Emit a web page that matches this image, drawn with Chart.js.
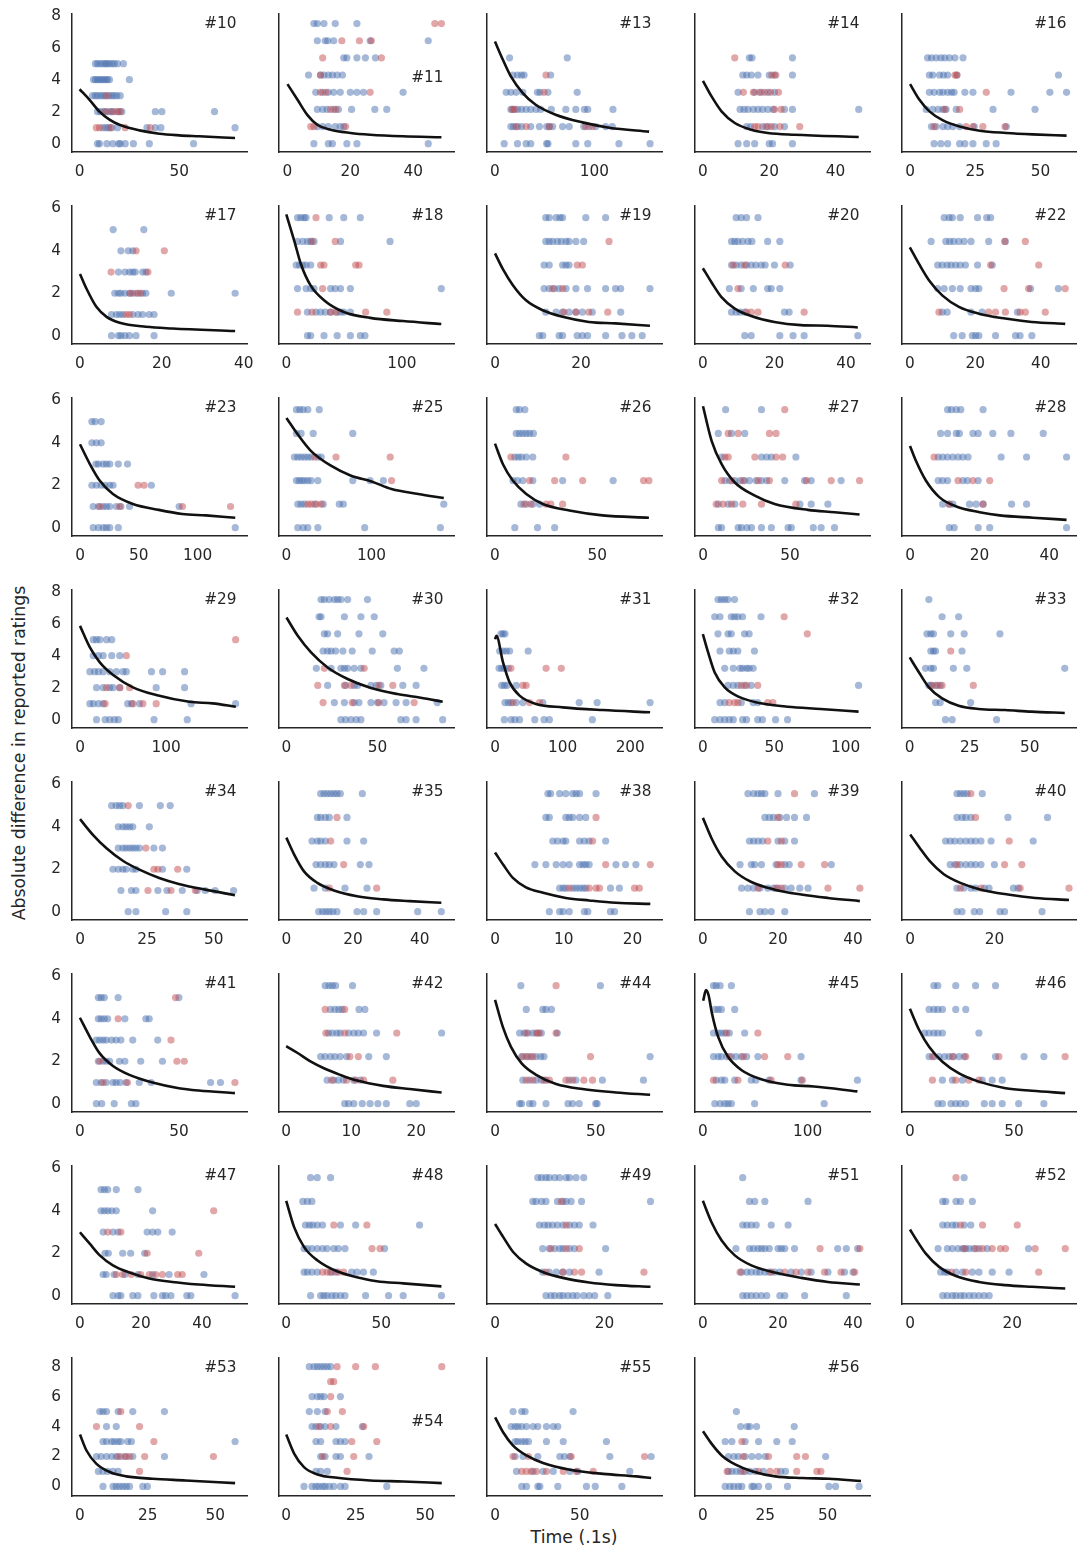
<!DOCTYPE html>
<html>
<head>
<meta charset="utf-8">
<script src="https://cdn.jsdelivr.net/npm/chart.js@4.4.1/dist/chart.umd.min.js"></script>
<style>
  body { margin: 0; background: #fff; width: 1077px; height: 1548px; position: relative; overflow: hidden;
         font-family: "DejaVu Sans", sans-serif; color: #262626; }
  canvas { position: absolute; }
  .lab { position: absolute; font-size: 17.3px; line-height: 1; white-space: nowrap; transform: translate(-50%, -50%); }
  #ylab { left: 20px; top: 753px; transform: translate(-50%, -50%) rotate(-90deg); }
  #xlab { left: 574px; top: 1538px; }
</style>
</head>
<body>
<div class="lab" id="ylab">Absolute difference in reported ratings</div>
<div class="lab" id="xlab">Time (.1s)</div>
<script>
// rating levels (y values, top row of points first)
const levelsInt = [5, 4, 3, 2, 1, 0];
const levelsNine = [8, 7, 6, 5, 4, 3, 2, 1, 0];
const levelsWide = [7.5, 6.43, 5.36, 4.29, 3.21, 2.14, 1.07, 0];
const levelsWideLow = [5.36, 4.29, 3.21, 2.14, 1.07, 0];
const levelsNarrow = [5.56, 4.44, 3.33, 2.22, 1.11, 0];

// per panel: b = blue x values per level, r = red x values per level, c = fitted curve [x, y]
const b10 = [[7.9,9,10.4,11.7,12.9,13.7,14.9,16.2,17.4,19,22],[7,8,9,10,11,12,13,14,15,25],[6.5,7.9,9,10.4,11.7,12.9,14.9,16.2,17.4,18.7,20.4],[9,10.4,12,13.7,15.4,17,19.6,21.2,38,41.3,67.7],[11.7,13.2,14.5,16.2,19,33.8,38,40.8,78],[9,10,13.7,16.7,19.6,20.4,22.9,27,35,57.2]];
const r10 = [[],[],[13.7],[12.9,16.2,18.7,20.4],[8.4,10,15.4,22.9,35.5],[]];
const c10 = [[0,3.4],[5,2.74],[10,2.0],[15,1.5],[20,1.18],[30,0.83],[40,0.62],[50,0.52],[60,0.46],[78,0.35]];

const b11 = [[8.4,9.5,11.6,15.2,22.1],[9.5,12,12.8,14.7,26.3,44.8],[17.9,18.9,22.1,24.8,28],[6.7,10.5,11.6,13,14.3,15.8,17.5],[9,11.2,13,14.7,16.8,20,22.1,24.2,36.8],[9.5,11.2,12.6,14.7,16.2,20.4,27.8,31.6],[9.5,11.2,13,15.2,16.8,17.9],[8.4,13,14.3,18.9,22.1,44.8]];
const r11 = [[46.9,49],[17.3,22.9,26.7],[11.2,29.9],[10.5],[10.5,12.2,26.3],[13.7,15.4],[7.4,8.4,18.5],[]];
const c11 = [[0,3.72],[3.2,2.74],[6.3,1.8],[9.5,1.18],[13.7,0.87],[20,0.67],[26.3,0.56],[36.8,0.46],[49,0.4]];

const b13 = [[14.7,72.7],[18,22.7,26.7,29.3,56],[11.3,16,21.3,28,42.7,45.3,53.3,82.7],[16,18.7,22.7,26.7,31.3,36,41.3,46,56.7,71.3,81.3,90,93.3,118.7],[16,18.7,22.7,26.7,36,44.7,52,54.7,58,68,74.7,89.3,94.7,101.3,111.3,118],[9.3,22.7,31.3,36,52,53.3,81.3,93.3,124.7,156]];
const r13 = [[],[51.3],[49.3],[17.3,20],[21.3,31.3,54.7,91.3,98],[]];
const c13 = [[0,6.38],[8,5.24],[16,4.2],[28,3.16],[41,2.43],[61,1.81],[88,1.33],[115,1.0],[155,0.75]];

const b14 = [[14,14.8,27],[12,13.2,14.6,16.6,20,21.6,27],[10.6,15.6,17.6,19.6,21.6],[11.2,12.4,13.6,15.2,16.6,18,19.6,21.2,24.6,27,47],[13.2,14.4,18,19.6,21.6,24.6],[10.6,13.2,15.6,20,21,27]];
const r14 = [[9.6],[20.8,22],[12.2,15.2,17,18.6,20.4,22.8],[21.6,23.6],[15.6,16.6,19,20.6,23.2,29.2],[]];
const c14 = [[0,3.93],[2.6,2.95],[5.6,2.02],[9.6,1.29],[14.6,0.87],[19.6,0.67],[27.6,0.56],[47,0.42]];

const b16 = [[6.7,8.2,10,11.8,13.3,15.1,17.2,20.3],[7.4,8.7,11.3,12.8,14.4,17.9,56.9],[7.4,9.2,11.3,12.6,14.4,15.9,16.9,21,24.1,38.7,53.6,60],[6.2,8.7,10.8,12.6,13.8,17.7,31.8,47.9],[8.2,10,12.6,14.4,16.4,19,24.6,36.9],[9.2,11.8,14.4,19,21,24.1,29.2,33]];
const r16 = [[],[17.2,18],[29.2],[19,13.3],[9.2,24.1,27.9,36.4,21.5],[]];
const c16 = [[0,3.72],[3.6,2.74],[7.4,2.02],[12.6,1.46],[19,1.08],[26.7,0.81],[36.9,0.67],[47,0.58],[60,0.5]];

const b17 = [[8.1,15.6],[10,11.8,12.9],[9.4,11,12.1,12.9,13.5,15.3,16.1],[8.5,9.4,10,11,12.1,12.9,14.2,15.3,16.1,22.3,37.9],[7.7,8.9,9.7,10.5,12.9,14.2,15.3,16.9,18.1],[7.7,9.4,10,11,12.1,13.7,18.1]];
const r17 = [[],[13.7,20.6],[7.6,16.6],[12.3,13.7,14.8],[11.3,12.1],[]];
const c17 = [[0,2.91],[1.6,2.21],[4,1.36],[6.5,0.89],[9.7,0.61],[16.1,0.42],[22.6,0.34],[37.9,0.22]];

const b18 = [[9.7,12.6,15.4,17.1,37.1,49.7,64],[9.7,14.3,18.3,21.1,24,46.9,89.7],[8.6,11.4,14.3,17.1,21.1],[9.7,17.1,21.1,24,38.3,42.3,46.9,55.4,134],[18.3,25.7,29.7,33.7,38.3,44,46.9,49.7,55.4],[18.3,21.1,32.6,44,55.4,64,68]];
const r18 = [[25.7],[22.3,42.3],[29.7,32.6,60,62.9],[31.4],[9.7,22.3,38.3,42.9,68.6,86.9],[]];
const c18 = [[0,5.72],[6.9,4.47],[12.6,3.38],[21,2.37],[32.6,1.67],[49.7,1.12],[72.6,0.84],[101,0.69],[134,0.55]];

const b19 = [[11.8,12.6,14.2,15.1,15.7,21.1,25.7],[11.8,12.6,13.4,14.5,15.4,16.5,17.2,18.8,20.6],[11.4,12.6,15.7,16.5,17.2],[11.4,12.6,13.8,14.9,16.5,18.8,21.5,25.7,28,29.2,36],[11.8,14.2,15.7,17.2,18.8,20.3,22.6,29.2],[10.3,11.1,14.9,15.7,19.1,20.3,21.5,25.7,29.5,31.8,34.2]];
const r19 = [[],[26.5],[19.1,20.3],[13.4,15.7],[16,18.8,21.8,26.2],[]];
const c19 = [[0,3.88],[1.8,3.15],[4.2,2.37],[7.2,1.67],[11.1,1.2],[15.7,0.89],[21.8,0.65],[28,0.58],[36,0.47]];

const b20 = [[9.3,10.7,12.2,15.4],[8,8.9,9.8,11.1,12.6,13.7,18.1,21.5],[8,9.3,10.7,12.2,13.5,14.8,16.3,17.4,20,24.4],[7.4,10.7,14.1,18.1,19.1,21.5],[8,9.3,10.4,11.7,22.8,24.1],[11.7,13.5,21.5,25.2,28.3,43.3]];
const r20 = [[],[],[8.5,11.7,23],[9.8],[12.2,13.5,15.4,28.3],[]];
const c20 = [[0,3.18],[2.4,2.52],[5.2,1.82],[8.9,1.28],[13.5,0.93],[20,0.65],[27.4,0.5],[34.8,0.47],[43.3,0.39]];

const b22 = [[10.5,12,13,15.4,20.7,23.5,24.7],[6.5,11,12.2,13.4,15,16.6,18.7,24.1,29.2],[8.5,9.9,11.4,12.6,14,15.4,17,20.7,25.2],[8.5,10.5,13,15.4,18.7,20.1,21.1,36.9,45.4],[9.9,11.4,18.7,22.1,32.9],[13.4,16,19.1,20.1,21.1,26.2,32.3,33.7,37.3]];
const r22 = [[],[35.3,29],[24.7,39.4],[28.8,36.3,47.5],[8.9,24.1,26.2,29.2,33.7,35.3,41.4],[]];
const c22 = [[0,4.16],[2.8,3.38],[5.9,2.6],[9.9,1.9],[15,1.36],[21.1,1.04],[29.2,0.81],[37.3,0.65],[47.5,0.56]];

const b23 = [[10.1,12.9,18],[10.1,14,18],[13.5,15.7,19.7,22.5,25.3,32.6,40.4],[10.1,14,18,21.3,25.3,28.1,60.7],[11.2,15.7,19.7,22.5,25.3,30.9,34.8,42.1,84.3],[11.2,15.7,19.7,22.5,25.3,32.6,132]];
const r23 = [[],[],[],[49.4,54.5],[16.9,33.7,87.1,128],[]];
const c23 = [[0,3.93],[8.4,3.0],[16.9,2.21],[28,1.59],[45,1.12],[67,0.84],[87,0.65],[107,0.58],[132,0.47]];

const b25 = [[11.8,15.7,19.7,25.2,38.6],[11.8,17.3,31.5,78],[9.4,13.4,17.3,21.3,25.2,29.1,37,40.9],[11.8,15,18.1,21.3,25.2,29.1,37,78,98.4,114],[13.4,17.3,21.3,33.1,43.3,62.2,66.9,185],[13.4,19.7,25.2,37,92,181]];
const r25 = [[],[],[33.1,58.3,122],[123.6],[25.2,29.1,35.4,40.9],[]];
const c25 = [[0,5.17],[13.4,4.39],[29,3.61],[52.8,2.91],[76,2.45],[100,2.18],[123.6,1.82],[155,1.59],[185,1.4]];

const b26 = [[10.4,12,14.6],[10.4,12,13.6,15.3,16.9,18.8],[9.7,11.4,13,15.3,18.5],[8.8,11,13.6,18.5,33.1,57.8],[12.7,15.3,18.5,21.8],[9.7,20.8,29.2]];
const r26 = [[],[],[7.8,34.7],[16.9,29.2,42.9,72.7,75.3],[14.3,17.5,25,27.3,33.1],[]];
const c26 = [[0,3.96],[3.9,2.99],[8.8,2.21],[15.3,1.59],[23.4,1.12],[36.4,0.81],[52.6,0.58],[75.3,0.47]];

const b27 = [[13,33.6],[8.8,16.4,24],[10.7,33.6,36.6,39.3,53.4],[12.6,15.3,18.3,21.4,24,26.7,30.5,33.6,36.6,47,58.4,62.2,79.4],[8.8,14.5,18.3,55.7,62.2,71.8],[8.8,10.7,20.2,22.1,25.2,27.9,33.6,39.3,48.9,50.8,63.4,67.9,75.6]];
const r27 = [[47],[14.5,20.2,38.2,42],[12.6,14.5,29.8,42,45.8],[10.7,16.4,22.9,31.7,38.2,59.5,73.7,90],[7.6,11.5,16.4,22.9,33.6,53.4],[]];
const c27 = [[0,5.72],[5,4.08],[10.7,2.99],[18.3,2.13],[29.8,1.51],[41.2,1.12],[60.3,0.84],[75.6,0.73],[90,0.62]];

const b28 = [[10.8,11.9,13.3,14.6,21],[8.8,10.8,13.3,14.2,18.1,19.6,23.8,29,38.3],[8.1,9.4,10.8,12.3,13.8,15.2,16.7,26.2,33.5,45],[8.1,9.4,10.8,15.2,16.5,19.6],[9.4,11.3,12.3,17.1,19,21,29.2,33.5],[11.3,12.7,19.6,22.9,45]];
const r28 = [[],[],[6.9],[13.8,18.1,22.9],[11.3,21],[]];
const c28 = [[0,3.85],[1.7,3.15],[4.6,2.21],[8.5,1.43],[13.3,1.0],[20,0.73],[25.8,0.58],[35.4,0.47],[45,0.37]];

const b29 = [[15.4,19.2,23,30.8,36.9],[15.4,21.5,26.9,36.9,46.2],[11.5,16.9,21.5,26.9,34.6,42.3,50,53.8,83,96,121.5],[19.2,26.9,34.6,38.5,46.2,88.5,121.5],[11.5,15.4,21.5,26.9,55.4,60,69.2,129,180.8],[19.2,29.2,34.6,40,44.6,86,124.6]];
const r29 = [[180.8],[53.8],[],[30.8,46.2,57.7],[29.2,61.5,73,88.5],[]];
const c29 = [[0,5.86],[11.5,4.51],[23,3.58],[38.5,2.79],[61.5,2.02],[88.5,1.54],[127,1.12],[154,1.02],[181,0.81]];

const b30 = [[19,20.8,23.4,26.3,28.1,29.9,33.6,44.5],[17.9,19,31.8,40.9,48.2],[20.8,22.6,28.1,39.8,52.9],[20.1,22.6,24.5,27,31,36.1,47.1,59.1,62],[16.4,24.5,29.9,31.8,33.6,37.2,40.9,60.9,75.5],[22.6,32.5,37.2,39,46.4,49.3,51.8,63.9,71.2],[26.3,31.8,37.2,39.8,46.4,50,53.6,60.2,65.7,82.8],[29.9,32.5,35.4,38.3,40.9,62.8,65.7,71.2,85.8]];
const r30 = [[],[],[],[],[20.8,42.7],[17.2,31.8,35.4,50.7,58.4],[20.1,36.1,50.7,70.1],[]];
const c30 = [[0,6.38],[6.2,5.24],[13.5,4.2],[22.6,3.26],[33.6,2.54],[46.4,1.98],[60.9,1.6],[73.7,1.37],[85.8,1.12]];

const b31 = [[8.8,11.8,14.7],[6.9,11.8,16.7,21.6,49],[5.9,9.8,13.7,19.6],[9.8,13.7,17.6,31.4],[14.7,19.6,23.5,31.4,41.2,70.6,124.5,151,229.4],[13.7,23.5,29.4,36.3,58.8,72.5,80.4,144]];
const r31 = [[],[],[23.5,75.5,98],[41.2,46],[26.5,51,65.7],[]];
const c31 = [[0,5.03],[2,5.24],[11.8,3.58],[21.6,2.33],[36.3,1.5],[60.8,0.98],[100,0.77],[158.8,0.6],[229.4,0.46]];

const b32 = [[10.6,13,15.3,17.6,22.2],[8.3,12,19.9,22.2,24.5,27.8,40.7],[10.6,17.6,19.9,29.2,32.4],[12,18.5,21.3,24.5,36.1],[15.3,21.3,25.9,27.8,30.6,32.4,35.2],[17.6,21.3,24.5,29.2,33.8,109],[12,15.3,26.9,35.2,38.4],[8.3,12,15.3,18.5,21.3,27.8,30.6,38.4,41.7,50.9,59.3]];
const r32 = [[],[56.9],[73.1],[],[],[26.9,30.6,38.4],[18.5,22.2,24.5,45.4,49],[]];
const c32 = [[0,5.34],[3.7,4.2],[8.3,2.95],[15.3,2.02],[24.5,1.46],[40.7,1.02],[59.3,0.81],[82.4,0.67],[109,0.5]];

const b33 = [[8],[13.5,20.4],[7.2,8.8,9.9,17.1,22.7,37.6],[8.8,9.9,10.8,21.8],[6.6,8.8,9.9,18.2,23.8,64.6],[8,8.8,10.8,12.7],[10.8,12.7,25.4],[14.9,17.7,36.2]];
const r33 = [[],[],[],[17.1],[],[9.4,11.6,13.5,26.5],[],[]];
const c33 = [[0,3.89],[3.9,2.95],[8,2.02],[13.5,1.33],[20.4,0.87],[28.7,0.67],[39.8,0.6],[50.8,0.5],[64.6,0.42]];

const b34 = [[11.8,13.5,14.8,16,22.2,30,33.7],[14.3,16,17.2,18.5,19.7,25.9],[14.3,16,17.2,18.5,19.7,20.9,22.2,27.6,30.8],[12.3,14.3,16,17.2,19.7,20.9,30.8,39.9],[15.3,19.2,20.9,29.1,32.5,38.2,43.8,46.8,50.5,57.4],[18,20.9,32,39.9]];
const r34 = [[18],[],[24.6],[27.6,29.1,36.5],[25.4,34,43.1],[]];
const c34 = [[0,4.36],[4.9,3.61],[9.9,2.99],[16,2.4],[22.2,1.98],[29.6,1.59],[36.9,1.31],[46.8,1.04],[57.9,0.78]];

const b35 = [[10.3,11.3,12.3,13.3,14.3,15.2,16.2,22.8],[9.3,10.3,11.7,12.9,18.2],[7.7,9.3,10.3,11.7,18.2,23.2],[8.9,10.3,11.7,12.9,14.3,22.2,24.8],[8.3,11.7,17.6,24.2],[9.7,10.9,11.9,12.9,13.9,15.2,21.2,23.2,27.1,39.4,46.5]];
const r35 = [[],[15.2],[13.3],[17.2],[12.9,27.1],[]];
const c35 = [[0,3.49],[2.4,2.68],[5.3,1.9],[9.3,1.36],[14.3,1.0],[21.2,0.73],[29.1,0.58],[37,0.5],[46.5,0.42]];

const b38 = [[7.7,8.1,9.4,10.3,11.3,11.8,12.3,14.7],[7.4,7.9,10.3,10.8,11.3,12.3,13.2],[8.4,9.1,9.9,10.3,12.3,13,13.7,16.1],[5.8,7.4,8.9,9.9,10.8,12.3,12.8,13.2,13.7,17.6,19,20.5],[9.4,9.9,10.3,11.3,11.8,12.3,12.8,13.2,16.8,18.1],[7.9,9.4,9.9,10.8,13,13.5,16.8,17.4]];
const r38 = [[],[14.7],[14.2],[16.1,22.6],[10.8,13.7,14.7,15.2,20.3,21],[]];
const c38 = [[0,2.79],[1.2,2.21],[2.6,1.59],[4.5,1.15],[7,0.89],[10.3,0.65],[13.7,0.53],[17.6,0.42],[22.6,0.37]];

const b39 = [[12,13.5,14.7,15.6,16.5,20,29.7],[16.5,17.7,18.8,20.5,22.3,24.4,27.6],[12.4,13.5,14.7,15.9,20,21.8,24.4],[9.9,12.9,13.8,15.6,19.5,21.8,23,34.2],[10.3,12,13.5,15.2,17.3,18.8,20,21.8,23.5,25.8,28],[12.4,15.2,16.5,18.2,21.8]];
const r39 = [[24.4],[20],[17.3,20.9],[20,20.9,26.2,32.4],[14.7,19.5,20.9,33.3,41.8],[]];
const c39 = [[0,4.42],[2.3,3.46],[5,2.6],[8.5,1.9],[12.9,1.4],[19.1,1.04],[26.2,0.81],[33.3,0.65],[41.8,0.5]];

const b40 = [[11.1,11.9,12.7,13.5,17.1],[11.1,12.3,13.2,14.4,23.2,32.6],[8.4,9.5,10.6,11.9,13.2,14.4,15.5,16.8,19.2,29.2],[9.5,10.6,11.9,13.2,14.4,15.5,16.8,20],[11.1,12.7,14.4,15.5,17.6,18.7,24.5,25.6],[11.1,12.3,15.2,16.5,21.3,22.4,31.3]];
const r40 = [[14.4],[15.5],[23.5],[11.1,22.4,26.5],[11.9,16.8,26.1,37.7],[]];
const c40 = [[0,3.64],[2.3,2.99],[4.7,2.37],[7.9,1.78],[11.9,1.36],[16.8,1.04],[23.2,0.81],[29.7,0.65],[37.7,0.55]];

const b41 = [[9.3,10.7,12.3,19.3,50],[9.3,10.7,12.3,14,22.7,33.3,35],[8.3,10,11.7,13.3,16,18.3,20.7,26.7,39.3],[9.3,11.7,13.3,15,20,22.7,30.7,41.7],[8.3,10.7,13.3,16.7,18.3,20.3,23.3,30,36,66,71],[8.3,11,17.3,26,28.3]];
const r41 = [[48.3],[19.3],[46],[10,49,52.7],[11.7,24,78.3],[]];
const c41 = [[0,4.05],[5,3.15],[10,2.37],[16.7,1.78],[25,1.36],[36.7,1.0],[50,0.73],[60,0.62],[78.3,0.5]];

const b42 = [[6,6.6,7.1,7.6,10.2],[6.8,7.5,8.1,8.6,11.2,12.1],[6.5,7.1,7.8,8.3,9.6,10.4,11.1,11.9,13.9,23.9],[5.3,6,6.8,7.5,8.3,9.3,12.7,15.4],[6.3,7.3,8,8.8,10.4,11.4],[9,9.6,10.4,11.7,12.9,14.1,15.4,19,20]];
const r42 = [[],[6,9],[6.1,9,17],[9.8,11.1],[7,9.3,10.7,11.9,16.4],[]];
const c42 = [[0,2.71],[1.7,2.4],[3.8,1.98],[5.8,1.67],[8.3,1.36],[10.9,1.09],[14.9,0.84],[19,0.69],[23.9,0.53]];

const b44 = [[12.8,52.3],[15.5,23.7,25.3,28],[12.2,14.5,16.4,18.8,21.1,23,30.9],[13.2,15.5,17.8,20.4,22.7,24.3,77],[13.8,17.1,20.4,23,25.3,36.8,40.1,53.3,73.7],[12.2,13.2,17.1,18.8,25.3,36.2,38.5,41.8,50,50.7]];
const r44 = [[30.3],[],[15.5,20.4,22,30.3],[13.8,16.4,18.8,47.4],[15.5,18.8,24.3,27,35.2,38.5,44.1,48.4],[]];
const c44 = [[0,4.89],[3.9,3.61],[7.9,2.68],[13.2,1.9],[20.4,1.36],[30.3,0.93],[43.4,0.69],[60,0.53],[77,0.42]];

const b45 = [[10.1,12.7,16.5,27.2],[11.4,14.6,17.7,30.4],[10.1,14.6,17.7,20.9,25.3,39.9],[10.1,14.6,17.7,22.8,27.2,31.6,36.7,41.8,52.5,93.7],[12.7,17.7,20.9,30.4,46.2,50.6,63.3,93.7,147.5],[11.4,16.5,20.9,24,27.2,49.4,115.8]];
const r45 = [[],[],[22.8,52.5],[25.3,38.6,58.9,81],[10.1,33.5,65.2,95],[]];
const c45 = [[0.3,4.85],[3,5.35],[5.5,5.1],[8.5,4.3],[14.6,3.15],[24,2.21],[36.7,1.59],[55.7,1.15],[81,0.89],[106,0.81],[147.5,0.58]];

const b46 = [[11.5,13.4,22,31.5,41.1],[9.2,11.5,13.4,15.6,22,26.8],[7,9.2,11.5,13.4,15.6,33.1],[9.2,11.5,14,16.6,18.8,21,23.6,26.1,41.1,54.8,64.3],[15.6,20.4,25.2,34.7,39.5,44.3],[13.4,15.6,19.7,22,24.2,26.8,35.7,39.5,44.3,52.2,64.3]];
const r46 = [[],[],[],[10.8,20.4,26.8,42.7,74.5],[10.8,22,28.3,33.1],[]];
const c46 = [[0,4.47],[4.5,3.46],[9.2,2.68],[15.6,1.98],[23.6,1.43],[33.1,1.04],[45.9,0.73],[58.6,0.61],[74.5,0.5]];

const b47 = [[6.9,8,9.1,11.9,19],[6.9,8,9.1,10.4,11.9,23.8],[7.6,10.8,12.5,22,23.8,25.5,30.2],[8.2,9.3,14,16.6,21.2],[7.6,8.6,11.2,14.7,19,23.8,29.2,40.6],[10.8,12.5,13.4,17.3,19,24.2,27,28.1,29.8,35,36.3,50.8]];
const r47 = [[],[43.8],[9.1,13.4],[22,38.9],[11.9,14,16.8,19.9,22.7,24.8,27,32,33.5],[]];
const c47 = [[0,2.99],[3.2,2.45],[6.5,1.9],[10.8,1.43],[16.2,1.09],[22.7,0.81],[30.2,0.65],[38.9,0.53],[50.8,0.42]];

const b48 = [[12.8,16.3,23.3],[8.7,11.1,13.5],[10.1,12.2,13.9,16.3,19.1,28.5,36.5,70.1],[9.4,11.1,13.5,16.3,19.1,21.5,25,27.4,30.9,51.7],[9.4,11.1,13.5,16.3,23.3,26,34.4,37.2,40.6,45.8],[12.8,18.1,19.8,21.5,24,26,28.5,30.9,41.7,53.8,61.5,81.6]];
const r48 = [[],[],[25,42.4],[45.1,49.3],[19.1,21.5,24,27.4,30.2],[]];
const c48 = [[0,4.47],[4.2,3.22],[9.4,2.29],[16.3,1.67],[26.7,1.15],[40.6,0.8],[47.6,0.68],[61.5,0.58],[81.6,0.44]];

const b49 = [[7.8,8.5,9.3,9.9,10.9,11.8,13,13.6,14.8,16.2],[6.9,7.5,8.5,9.3,11.4,12.4,13,13.9,15.8,28.4],[8.1,9,9.7,10.5,11.4,12.4,13.6,14.5,15.4,17.9],[8.7,9.9,10.9,11.8,12.4,13.6,14.5,20.2],[8.7,9.9,11.2,12.4,13.6,19],[9.3,10.2,10.9,11.8,12.4,13.3,14.2,15,16.2,17.2,18.2,20.6]];
const r49 = [[],[12.1],[13],[10.2,13,15.4],[9.3,12.4,14.5,15.8,27.2],[]];
const c49 = [[0,3.38],[1.5,2.76],[3.3,2.06],[5.7,1.51],[8.7,1.12],[12.4,0.84],[17.2,0.62],[22.1,0.5],[28.4,0.42]];

const b51 = [[10.6],[12.4,13.8,16.5,28],[10.6,11.7,12.9,14.2,18.2,22.7],[8.8,12.4,13.5,14.7,15.6,16.5,17.7,20,20.9,21.8,24.4,35.9,38.2,41.2],[10.3,11.7,12.9,14.2,15.2,16.5,17.7,19.1,20.5,23.5,26.2,28.8,33.3,37.7,40],[10.6,11.7,12.9,14.2,15.6,17,20.5,21.8,27.1,38.2]];
const r51 = [[],[],[],[31.2,41.8],[9.9,18.2,21.8,24.8,28,32.4,36.8,40.4],[]];
const c51 = [[0,4.47],[2.3,3.46],[5,2.6],[8.5,1.9],[12.9,1.43],[19.1,1.09],[26.2,0.84],[33.3,0.65],[41.8,0.53]];

const b52 = [[10.6],[6.4,7,9,9.9,12.2],[6.4,7.3,8.3,9,10.6,11.9],[5.5,7.3,8.3,9.4,10.3,10.9,11.6,12.5,13.5,15.1,23.2],[6,6.8,7.3,9,10.3,12.2,13.5,16.1,19.4],[6.4,7.3,8.3,9,9.9,10.6,11.6,12.5,13.5,14.5,15.5]];
const r52 = [[9],[],[9.9,14.2,21],[10.6,12.9,14.2,16.1,17.7,18.7,24.5,30.4],[8.1,10.9,25.2],[]];
const c52 = [[0,3.12],[1.2,2.65],[3.1,1.98],[5.7,1.36],[9,0.93],[13.5,0.65],[18.7,0.5],[23.9,0.42],[30.4,0.34]];

const b53 = [[7.3,8.5,9.8,14.1,19.5,31.2],[9.8,13.4],[8.5,9.8,11.7,12.7,14.1,15.1,17.6,19,57.3],[6.1,7.8,9.8,11.7,13.4,15.1,17.1,19.5,31.2],[6.8,8.5,10.2,12.2,14.1],[8.5,12.2,13.4,14.6,15.9,17.1,18.3,23.2,24.9]];
const r53 = [[15.1],[6.1,22],[27.3],[14.1,16.6,18.3,23.9,49.3],[22],[]];
const c53 = [[0,3.47],[2.4,2.4],[6.1,1.51],[11,0.96],[17.1,0.67],[26.8,0.51],[39,0.4],[57.3,0.22]];

const b54 = [[8.3,10,11.2,12.4,13.6,14.8,16],[],[9.3,11.2,12.4,13.6,19.5],[8.3,11.2,14],[9.3,10.7,12.4,14,17.9,27.4],[10.7,12.4,17.9,19.5,21.2],[12.4,14,17.9,19.5,29.8],[10.7,12.4,14.8],[6.4,9.3,10.7,11.7,13.1,14,15.5,17.1,19.5,21.2,36.2]];
const r54 = [[18.3,25,32.1,56],[16,17.1],[16],[14.8,20.2],[11.7,16,27.9],[23.6,32.6],[13.1,24.3],[21.9],[]];
const c54 = [[0,3.47],[2.9,2.18],[6.4,1.29],[11.2,0.8],[18.3,0.58],[30.2,0.4],[42.1,0.33],[56,0.22]];

const b55 = [[10.6,15.7,17.7,46],[9.4,11.8,13.4,15.7,18.5,22.4,25.2,30.3,34.3,37],[11.8,13.4,15.7,17.7,19.7,30.3,40.2,65.7],[11.8,16.5,25.2,38.2,40.9,44.1,67.7,92.1],[12.6,22.4,28.3,34.3,44.1,48.8,79.5],[15.7,18.5,25.2,26.4,37,53.9,59.1,74.8]];
const r55 = [[],[],[],[10.6,19.7,44.9,88.2],[15.7,18.5,21.3,24.4,30.3,40.2,48,57.9],[]];
const c55 = [[0,4.62],[4.7,3.62],[10.6,2.73],[18.5,2.07],[28.3,1.56],[44.1,1.11],[63.8,0.84],[83.5,0.67],[92.1,0.56]];

const b56 = [[13.4],[15.1,17.7,18.8,21.5,36.6],[8.9,11.6,16.9,22.3,29.6,35.8],[10.2,12.4,14.2,16.9,19.6,22.3,25,49.2],[10.2,11.6,13.4,15.1,16.9,18.8,21,24.2,31.2,33.1],[8.9,10.8,12.4,14.2,15.6,19.6,20.4,22.3,26.3,33.9,50.5,53.2,62.6]];
const r56 = [[],[],[15.6],[16.1,26.3,37.6,41.1],[9.7,16.1,22.3,26.9,29.6,37.6,45.7,47.3],[]];
const c56 = [[0,3.69],[3.5,2.84],[7.5,2.07],[12.9,1.47],[19.6,1.02],[29,0.67],[39.8,0.56],[50.5,0.51],[63.4,0.36]];

// panel order, row by row
const panelIds = [10,11,13,14,16, 17,18,19,20,22, 23,25,26,27,28, 29,30,31,32,33, 34,35,38,39,40, 41,42,44,45,46, 47,48,49,51,52, 53,54,55,56];
const panelLevels = [levelsInt,levelsWide,levelsWideLow,levelsWideLow,levelsWideLow,
  levelsInt,levelsNarrow,levelsNarrow,levelsNarrow,levelsNarrow,
  levelsInt,levelsNarrow,levelsNarrow,levelsNarrow,levelsNarrow,
  levelsInt,levelsWide,levelsWideLow,levelsWide,levelsWide,
  levelsInt,levelsNarrow,levelsNarrow,levelsNarrow,levelsNarrow,
  levelsInt,levelsNarrow,levelsNarrow,levelsNarrow,levelsNarrow,
  levelsInt,levelsNarrow,levelsNarrow,levelsNarrow,levelsNarrow,
  levelsInt,levelsNine,levelsInt,levelsInt];
const panelBlue = [b10,b11,b13,b14,b16,b17,b18,b19,b20,b22,b23,b25,b26,b27,b28,b29,b30,b31,b32,b33,b34,b35,b38,b39,b40,b41,b42,b44,b45,b46,b47,b48,b49,b51,b52,b53,b54,b55,b56];
const panelRed = [r10,r11,r13,r14,r16,r17,r18,r19,r20,r22,r23,r25,r26,r27,r28,r29,r30,r31,r32,r33,r34,r35,r38,r39,r40,r41,r42,r44,r45,r46,r47,r48,r49,r51,r52,r53,r54,r55,r56];
const panelCurve = [c10,c11,c13,c14,c16,c17,c18,c19,c20,c22,c23,c25,c26,c27,c28,c29,c30,c31,c32,c33,c34,c35,c38,c39,c40,c41,c42,c44,c45,c46,c47,c48,c49,c51,c52,c53,c54,c55,c56];

// x axes (each panel has its own)
const xMin = [-3.8,-2.7,-8,-2.4,-3.1, -1.95,-6.3,-1.86,-2.2,-2.4, -6.8,-8.7,-3.9,-4.6,-2.3, -9.3,-4.1,-11.9,-5.5,-3.2, -3,-2.2,-1.17,-2.1,-1.95, -4,-1.1,-4,-7.5,-3.8, -2.6,-3.8,-1.47,-2.1,-1.57, -2.95,-2.6,-4.8,-3.2];
const xMax = [84,53,168,50.4,64, 40.8,145,38.8,46.7,51.1, 142,197,81.7,96,48, 194,92,247,117,69.7, 62.4,50.3,24.3,44.5,39.6, 84.4,25.8,82.9,159.5,80.2, 54.7,88.2,30.5,44.5,32.7, 61.7,60.4,98.5,67];
const xTicks = [[0,50],[0,20,40],[0,100],[0,20,40],[0,25,50],
  [0,20,40],[0,100],[0,20],[0,20,40],[0,20,40],
  [0,50,100],[0,100],[0,50],[0,50],[0,20,40],
  [0,100],[0,50],[0,100,200],[0,50,100],[0,25,50],
  [0,25,50],[0,20,40],[0,10,20],[0,20,40],[0,20],
  [0,50],[0,10,20],[0,50],[0,100],[0,50],
  [0,20,40],[0,50],[0,20],[0,20,40],[0,20],
  [0,25,50],[0,25,50],[0,50],[0,25,50]];

// y axes shared across each row
const rowYMin = [-0.52,-0.39,-0.39,-0.52,-0.39,-0.39,-0.39,-0.64];
const rowYMax = [8.1,6.11,6.11,8.1,6.11,6.11,6.11,8.58];
const rowYTicks = [[0,2,4,6,8],[0,2,4,6],[0,2,4,6],[0,2,4,6,8],[0,2,4,6],[0,2,4,6],[0,2,4,6],[0,2,4,6,8]];

const lowTitle = [11, 54];

const BLUE = 'rgba(76,114,176,0.5)';
const RED = 'rgba(196,78,82,0.5)';
const INK = '#262626';
const FONT = 'DejaVu Sans';

const colLeft = [72, 279, 487, 695, 902];
const PANEL_W = 175, PANEL_H = 138;
const ROW_TOP = 14, ROW_STEP = 192;

function toPoints(levels, sets) {
  const pts = [];
  sets.forEach((xs, k) => xs.forEach(x => pts.push({ x: x, y: levels[k] })));
  return pts;
}

function makePanel(i) {
  const row = Math.floor(i / 5), col = i % 5;
  const id = panelIds[i];
  const padL = 45, padT = 10, padB = 32, padR = col === 4 ? 0 : 16;

  const cv = document.createElement('canvas');
  cv.width = padL + PANEL_W + padR;
  cv.height = padT + PANEL_H + padB;
  cv.style.left = (colLeft[col] - padL) + 'px';
  cv.style.top = (ROW_TOP + row * ROW_STEP - padT) + 'px';
  document.body.appendChild(cv);

  // "#NN" label inside the top right corner
  const titlePlugin = {
    id: 'panelTitle',
    afterDatasetsDraw(chart) {
      const { ctx, chartArea } = chart;
      ctx.save();
      ctx.font = '15.3px "' + FONT + '"';
      ctx.fillStyle = INK;
      ctx.textAlign = 'right';
      ctx.textBaseline = 'middle';
      const dy = lowTitle.includes(id) ? 64.5 : 10;
      ctx.fillText('#' + id, chartArea.right - 10.5, chartArea.top + dy);
      ctx.restore();
    }
  };

  const tickFont = { family: FONT, size: 15.3 };

  new Chart(cv.getContext('2d'), {
    type: 'scatter',
    data: {
      datasets: [
        {
          data: panelCurve[i].map(p => ({ x: p[0], y: p[1] })),
          showLine: true,
          borderColor: '#111111',
          borderWidth: 2.6,
          pointRadius: 0,
          cubicInterpolationMode: 'monotone',
          fill: false,
          order: 0,
          clip: false
        },
        {
          data: toPoints(panelLevels[i], panelRed[i]),
          backgroundColor: RED,
          pointRadius: 3.6,
          pointBorderWidth: 0,
          order: 1,
          clip: false
        },
        {
          data: toPoints(panelLevels[i], panelBlue[i]),
          backgroundColor: BLUE,
          pointRadius: 3.6,
          pointBorderWidth: 0,
          order: 2,
          clip: false
        }
      ]
    },
    options: {
      responsive: false,
      animation: false,
      events: [],
      layout: { autoPadding: false, padding: { top: padT, right: padR, left: 0, bottom: 0 } },
      plugins: { legend: { display: false }, tooltip: { enabled: false } },
      scales: {
        x: {
          type: 'linear',
          min: xMin[i],
          max: xMax[i],
          afterBuildTicks: ax => { ax.ticks = xTicks[i].map(v => ({ value: v })); },
          afterFit: s => { s.height = padB; s.paddingLeft = 0; s.paddingRight = 0; },
          grid: { display: false, drawTicks: false },
          border: { display: true, color: INK, width: 1.5 },
          ticks: { color: INK, font: tickFont, padding: 11, maxRotation: 0, autoSkip: false }
        },
        y: {
          type: 'linear',
          min: rowYMin[row],
          max: rowYMax[row],
          afterBuildTicks: ax => { ax.ticks = rowYTicks[row].map(v => ({ value: v })); },
          afterFit: s => { s.width = padL; s.paddingTop = 0; s.paddingBottom = 0; },
          grid: { display: false, drawTicks: false },
          border: { display: true, color: INK, width: 1.5 },
          ticks: { display: col === 0, color: INK, font: tickFont, padding: 11 }
        }
      }
    },
    plugins: [titlePlugin]
  });
}

panelIds.forEach((id, i) => makePanel(i));
</script>
</body>
</html>
